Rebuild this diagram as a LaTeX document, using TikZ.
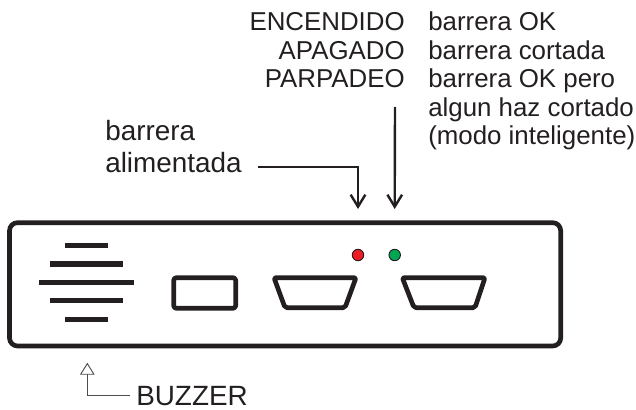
\documentclass[tikz,border=0pt]{standalone}
\usepackage{fontspec}
\setmainfont{Liberation Sans}
\usetikzlibrary{arrows.meta}
\definecolor{ink}{HTML}{231F20}
\definecolor{ledred}{HTML}{ED1C24}
\definecolor{ledgreen}{HTML}{00A651}
\tikzset{
 x=0.75pt,y=-0.75pt,
 lbl/.style={inner sep=0pt,text=ink,font=\fontsize{19.4pt}{23pt}\selectfont},
 big/.style={font=\fontsize{20.9pt}{25pt}\selectfont},
 lblR/.style={lbl,anchor=base east},
 lblL/.style={lbl,anchor=base west},
 heavy/.style={draw=ink,line width=3.5pt,line join=round},
 bar/.style={draw=ink,line width=3.9pt},
 conn/.style={draw=ink,line width=1.8pt,-{Straight Barb[length=9pt,width=11pt,line width=1.8pt]}},
 thinconn/.style={draw=ink!80,line width=0.8pt,-{Triangle[open,length=9pt,width=11pt,line width=0.7pt,fill=white]}},
 led/.style={circle,draw=ink,line width=0.7pt,minimum size=8.6pt,inner sep=0pt},
}
\begin{document}
\begin{tikzpicture}
\useasboundingbox (0,0) rectangle (636,410);
% housing
\draw[heavy,rounded corners=6pt] (9.5,222.7) rectangle (560.7,346);
% buzzer
\draw[bar] (65,245.5) -- (108,245.5);
\draw[bar] (50,264) -- (123,264);
\draw[bar] (39,282.7) -- (134,282.7);
\draw[bar] (50,300.7) -- (123,300.7);
\draw[bar] (65,319.3) -- (108,319.3);
% connectors
\draw[heavy,rounded corners=2pt] (173.7,277.7) rectangle (235.7,308.3);
\draw[heavy,rounded corners=1.5pt] (274,277.7) -- (356,277.7) -- (345,307.7) -- (285,307.7) -- cycle;
\draw[heavy,rounded corners=1.5pt] (402.3,277.7) -- (485,277.7) -- (475,307.7) -- (414,307.7) -- cycle;
% LEDs
\node[led,fill=ledred] (ledr) at (358,255) {};
\node[led,fill=ledgreen] (ledg) at (394.7,255) {};
% texts
\node[lblR] (enc) at (405,30.7) {ENCENDIDO};
\node[lblR] (apa) at (405,59.3) {APAGADO};
\node[lblR] (par) at (405,87.7) {PARPADEO};
\node[lblL] (t1) at (428,31) {barrera OK};
\node[lblL] (t2) at (428,60) {barrera cortada};
\node[lblL] (t3) at (428,88) {barrera OK pero};
\node[lblL] (t4) at (428,117) {algun haz cortado};
\node[lblL] (t5) at (428,145) {(modo inteligente)};
\node[lblL,big] (ba) at (105,140.7) {barrera};
\node[lblL,big] (al) at (105,172) {alimentada};
\node[lblL,big] (bz) at (136,405) {BUZZER};
% arrows
\coordinate (a1) at (257.7,166.7);
\coordinate (a2) at (395,107);
\coordinate (a3) at (130,395.7);
\draw[conn] (a1) -| (ledr.north |- 0,209);
\draw[conn] (a2) -- (ledg.north |- 0,209);
\draw[thinconn] (a3) -| (87.3,362.7);
\end{tikzpicture}
\end{document}
